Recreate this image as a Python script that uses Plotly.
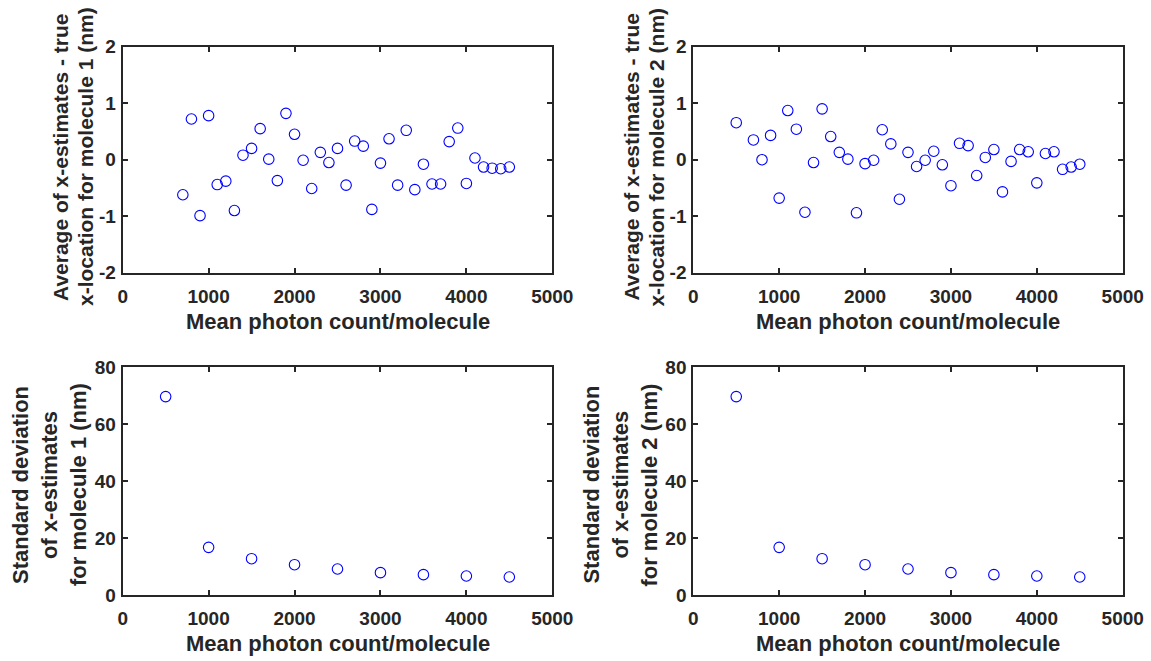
import plotly.graph_objects as go

# ---- data ----
x_mol1_mean = [700, 800, 900, 1000, 1100, 1200, 1300, 1400, 1500, 1600, 1700, 1800, 1900, 2000,
               2100, 2200, 2300, 2400, 2500, 2600, 2700, 2800, 2900, 3000, 3100, 3200, 3300,
               3400, 3500, 3600, 3700, 3800, 3900, 4000, 4100, 4200, 4300, 4400, 4500]
y_mol1_mean = [-0.62, 0.72, -0.99, 0.78, -0.44, -0.38, -0.90, 0.08, 0.20, 0.55, 0.01, -0.37, 0.82, 0.45,
               -0.01, -0.51, 0.13, -0.05, 0.20, -0.45, 0.33, 0.24, -0.88, -0.06, 0.37, -0.45, 0.52,
               -0.53, -0.08, -0.43, -0.43, 0.32, 0.56, -0.42, 0.03, -0.13, -0.15, -0.16, -0.13]

x_mol2_mean = [500, 700, 800, 900, 1000, 1100, 1200, 1300, 1400, 1500, 1600, 1700, 1800, 1900, 2000,
               2100, 2200, 2300, 2400, 2500, 2600, 2700, 2800, 2900, 3000, 3100, 3200, 3300,
               3400, 3500, 3600, 3700, 3800, 3900, 4000, 4100, 4200, 4300, 4400, 4500]
y_mol2_mean = [0.655, 0.35, 0.00, 0.43, -0.68, 0.87, 0.54, -0.93, -0.05, 0.90, 0.41, 0.13, 0.01, -0.94, -0.07,
               -0.01, 0.53, 0.28, -0.70, 0.13, -0.12, -0.01, 0.15, -0.09, -0.46, 0.29, 0.25, -0.28,
               0.04, 0.18, -0.57, -0.03, 0.18, 0.14, -0.41, 0.11, 0.14, -0.17, -0.13, -0.08]

x_std = [500, 1000, 1500, 2000, 2500, 3000, 3500, 4000, 4500]
y_std_mol1 = [69.7, 16.75, 12.76, 10.65, 9.13, 7.85, 7.15, 6.68, 6.32]
y_std_mol2 = [69.7, 16.75, 12.76, 10.65, 9.13, 7.85, 7.15, 6.68, 6.32]

x_ticks = [0, 1000, 2000, 3000, 4000, 5000]
y_ticks_mean = [-2, -1, 0, 1, 2]
y_ticks_std = [0, 20, 40, 60, 80]

W, H = 1151, 661
AX = '#262626'
FONT = 'Liberation Sans, Arial, sans-serif'

def fx(px):
    return px / W

def fy(py):
    return 1 - py / H

fig = go.Figure()

panels = [
    ('x', 'y', x_mol1_mean, y_mol1_mean),
    ('x2', 'y2', x_mol2_mean, y_mol2_mean),
    ('x3', 'y3', x_std, y_std_mol1),
    ('x4', 'y4', x_std, y_std_mol2),
]
for xa, ya, xs, ys in panels:
    fig.add_trace(go.Scatter(
        x=xs, y=ys, xaxis=xa, yaxis=ya, mode='markers',
        marker=dict(symbol='circle-open', size=10.5, color='#0000ff', line=dict(width=1.1, color='#0000ff')),
        showlegend=False, cliponaxis=False))

left = (122.7, 552.3)
right = (693.3, 1122.7)
top = (46.7, 272.7)
bottom = (367.3, 595.0)

tickfont = dict(family=FONT, size=19, color=AX, weight='bold')

def xaxis(dom, anchor):
    return dict(domain=[fx(dom[0]), fx(dom[1])], anchor=anchor, range=[0, 5000],
                tickvals=x_ticks, ticktext=[str(v) for v in x_ticks], automargin=False,
                showline=True, linewidth=2, linecolor=AX, mirror='ticks',
                ticks='inside', ticklen=5, tickwidth=1.5, tickcolor=AX,
                showgrid=False, zeroline=False, ticklabelstandoff=5,
                tickfont=tickfont)

def yaxis(dom, anchor, rng, tv):
    return dict(domain=[fy(dom[1]), fy(dom[0])], anchor=anchor, range=rng,
                tickvals=tv, ticktext=[str(v) for v in tv], automargin=False,
                showline=True, linewidth=2, linecolor=AX, mirror='ticks',
                ticks='inside', ticklen=5, tickwidth=1.5, tickcolor=AX,
                showgrid=False, zeroline=False, ticklabelstandoff=1,
                tickfont=tickfont)

fig.update_layout(
    template='none',
    width=W, height=H, margin=dict(l=0, r=0, t=0, b=0, pad=0),
    paper_bgcolor='white', plot_bgcolor='white',
    xaxis=xaxis(left, 'y'), yaxis=yaxis(top, 'x', [-2, 2], y_ticks_mean),
    xaxis2=xaxis(right, 'y2'), yaxis2=yaxis(top, 'x2', [-2, 2], y_ticks_mean),
    xaxis3=xaxis(left, 'y3'), yaxis3=yaxis(bottom, 'x3', [0, 80], y_ticks_std),
    xaxis4=xaxis(right, 'y4'), yaxis4=yaxis(bottom, 'x4', [0, 80], y_ticks_std),
)

tf = dict(family=FONT, size=22, color=AX, weight='bold')
tf_top = dict(family=FONT, size=21, color=AX, weight='bold')
ann = []
# x-axis titles
for (x0, x1), ycen in [(left, 321), (right, 321), (left, 643), (right, 643)]:
    ann.append(dict(text='Mean photon count/molecule', x=fx((x0 + x1) / 2), y=fy(ycen),
                    xref='paper', yref='paper', xanchor='center', yanchor='middle',
                    showarrow=False, font=tf))
# y-axis titles (one annotation per line)
top_lines = ['Average of x-estimates - true', 'x-location for molecule {} (nm)']
bot_lines = ['Standard deviation', 'of x-estimates', 'for molecule {} (nm)']
for mol, xoff in [(1, 0), (2, 570.6)]:
    for txt, px in zip(top_lines, [60, 85]):
        ann.append(dict(text=txt.format(mol), x=fx(px + xoff), y=fy(157), textangle=-90,
                        xref='paper', yref='paper', xanchor='center', yanchor='middle',
                        showarrow=False, font=tf_top))
    for txt, px in zip(bot_lines, [21, 50, 79]):
        ann.append(dict(text=txt.format(mol), x=fx(px + xoff), y=fy(485), textangle=-90,
                        xref='paper', yref='paper', xanchor='center', yanchor='middle',
                        showarrow=False, font=tf))
fig.update_layout(annotations=ann)

# remove the default 8px page margin so the figure fills the window exactly
fig.write_html('out.html', config={'displayModeBar': False},
               post_script="document.body.style.margin='0';document.body.style.padding='0';")
